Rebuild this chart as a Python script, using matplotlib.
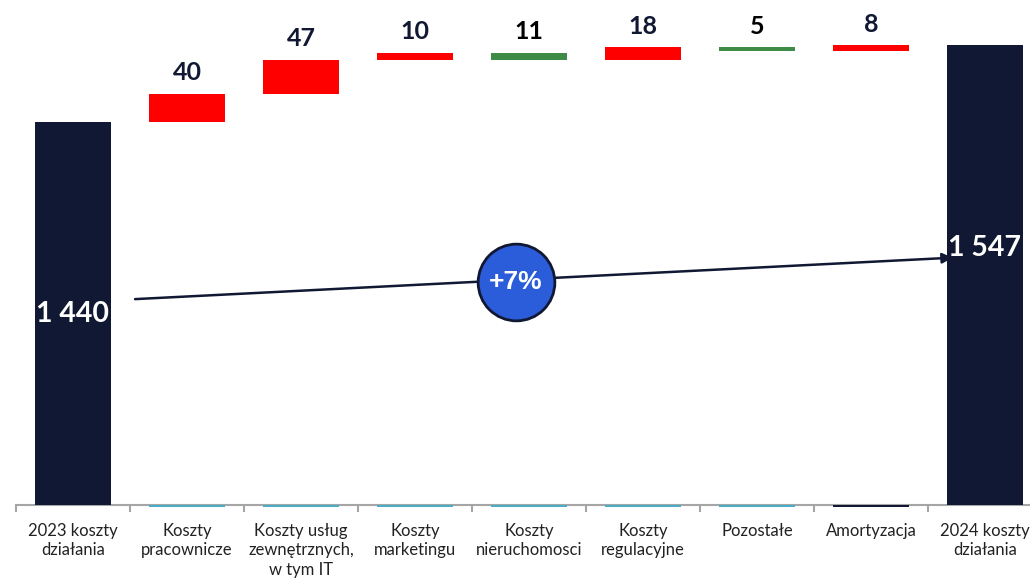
import matplotlib
matplotlib.use('Agg')
from matplotlib import pyplot as plt

# Data
categories = ['2023 koszty\ndziałania', 'Koszty\npracownicze', 'Koszty usług\nzewnętrznych,\nw tym IT',
              'Koszty\nmarketingu', 'Koszty\nnieruchomosci', 'Koszty\nregulacyjne', 'Pozostałe',
              'Amortyzacja', '2024 koszty\ndziałania']
start_value = 1440
end_value = 1547
changes = [40, 47, 10, -11, 18, -5, 8]
change_labels = ['40', '47', '10', '11', '18', '5', '8']
total_labels = ['1 440', '1 547']
growth_label = '+7%'
y_min = 908

NAVY = '#111833'
RED = '#FF0000'
GREEN = '#3D8B47'
TEAL = '#4BACC6'
GREY = '#A6A6A6'
BLUE = '#2B5CD9'

plt.rcParams['font.family'] = ['Lato', 'DejaVu Sans']

fig = plt.figure(figsize=(10.3, 5.82), dpi=100)
W, H = 1030, 582
ax = fig.add_axes([16 / W, 77 / H, 1026 / W, 505 / H])
ax.set_xlim(-0.5, len(categories) - 0.5)
ax.set_ylim(y_min, 1610)

bw = 0.667
# totals
ax.bar(0, start_value - y_min, bottom=y_min, width=bw, color=NAVY, zorder=3)
ax.bar(len(categories) - 1, end_value - y_min, bottom=y_min, width=bw, color=NAVY, zorder=3)

# floating changes
level = start_value
for i, ch in enumerate(changes, start=1):
    color = RED if ch > 0 else GREEN
    ax.bar(i, ch, bottom=level, width=bw, color=color, zorder=3)
    top = max(level, level + ch)
    ax.annotate(change_labels[i - 1], (i, top), xytext=(0, 7), textcoords='offset points',
                ha='center', va='bottom', fontsize=18, fontweight='bold',
                color=NAVY if ch > 0 else 'black')
    # thin base marker on the axis
    base_color = NAVY if i == len(changes) else TEAL
    ax.bar(i, 3, bottom=y_min - 2.5, width=bw, color=base_color, zorder=4, clip_on=False)
    level += ch

# total labels
ax.text(0, (start_value + y_min) / 2, total_labels[0], ha='center', va='center',
        fontsize=20.5, fontweight='bold', color='white', zorder=5)
ax.text(len(categories) - 1, y_min + 0.56 * (end_value - y_min), total_labels[1], ha='center',
        va='center', fontsize=20.5, fontweight='bold', color='white', zorder=5)

# growth arrow and bubble
ax.annotate('', xy=(7.74, 1252), xytext=(0.52, 1194),
            arrowprops=dict(arrowstyle='-|>', color=NAVY, lw=1.8, mutation_scale=15), zorder=4)
ax.scatter([3.886], [1218], s=3050, color=BLUE, edgecolor=NAVY, linewidth=2, zorder=6)
ax.text(3.886, 1218, growth_label, ha='center', va='center', fontsize=19, fontweight='bold',
        color='white', zorder=7, family=['Liberation Sans', 'DejaVu Sans'])

# axes styling
for s in ['top', 'right', 'left']:
    ax.spines[s].set_visible(False)
ax.spines['bottom'].set_color(GREY)
ax.spines['bottom'].set_linewidth(1.5)
ax.set_yticks([])
ax.set_xticks(range(len(categories)))
ax.set_xticklabels(categories, fontsize=12, color='#222222', linespacing=1.25)
ax.tick_params(axis='x', which='major', length=0, pad=13)
ax.set_xticks([i - 0.5 for i in range(len(categories) + 1)], minor=True)
ax.tick_params(axis='x', which='minor', length=5, width=1.5, color=GREY)

fig.savefig('out.png', dpi=100)
